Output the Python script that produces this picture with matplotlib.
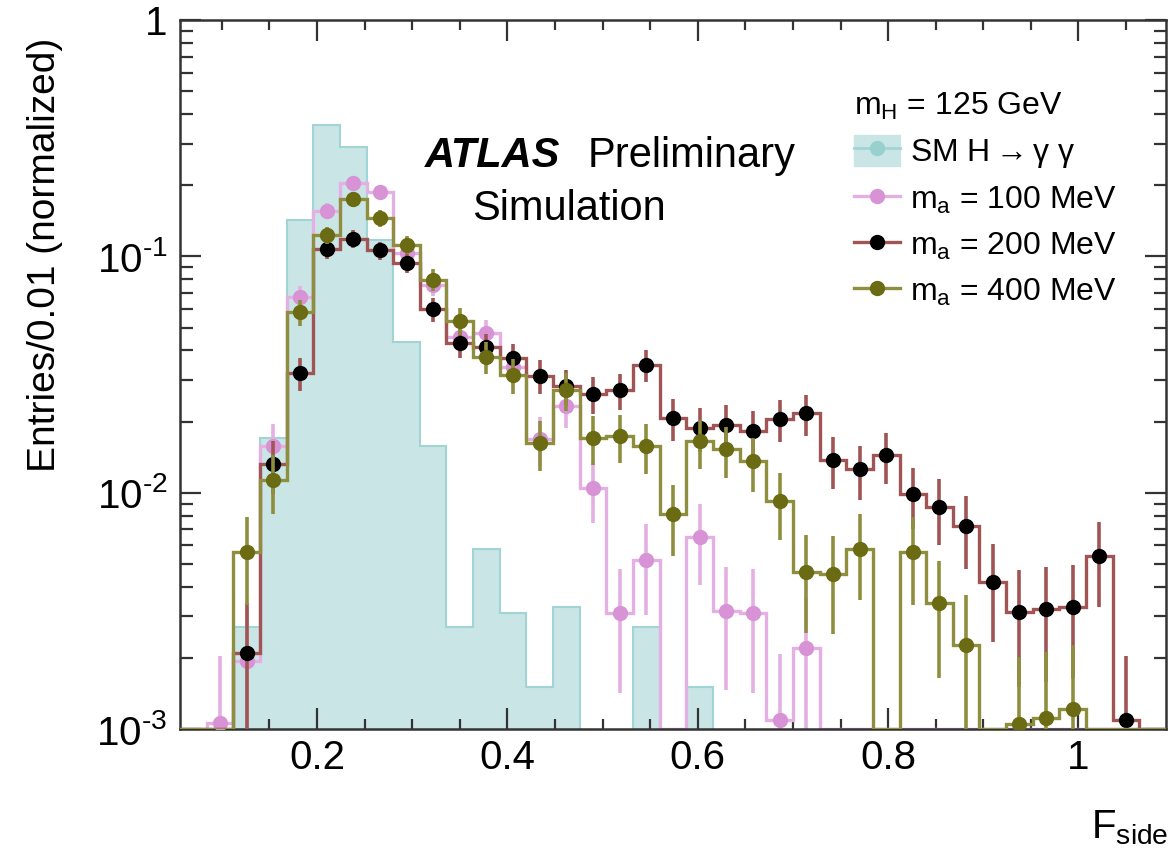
import numpy as np
import matplotlib
matplotlib.use("Agg")
import matplotlib.pyplot as plt
from matplotlib.lines import Line2D
from matplotlib.patches import Patch
from matplotlib.ticker import FixedLocator, FixedFormatter, MultipleLocator, LogLocator, NullFormatter

plt.rcParams["font.family"] = ["Liberation Sans", "DejaVu Sans"]
plt.rcParams["mathtext.fontset"] = "custom"
plt.rcParams["mathtext.rm"] = "Liberation Sans"
plt.rcParams["mathtext.it"] = "Liberation Sans"

# F_side binning: 37 bins of width 0.028 from 0.056 to 1.092
edges = np.linspace(0.056, 1.092, 38)

sm_hgg = [0, 0, 0.0027, 0.0171, 0.142, 0.36, 0.29, 0.117, 0.0436, 0.0157,
          0.0027, 0.0058, 0.0031, 0.0015, 0.0033, 0, 0, 0.0027, 0, 0.0015,
          0, 0, 0, 0, 0, 0, 0, 0, 0, 0, 0, 0, 0, 0, 0, 0, 0]
ma_100 = [0, 0.00106, 0.00195, 0.0157, 0.0672, 0.156, 0.204, 0.188, 0.103, 0.076,
          0.0458, 0.0473, 0.034, 0.0169, 0.0233, 0.0105, 0.0031, 0.0052, 0, 0.0065,
          0.00315, 0.0031, 0.00109, 0.0022, 0, 0, 0, 0, 0, 0, 0, 0, 0, 0, 0, 0, 0]
ma_200 = [0, 0, 0.0021, 0.0132, 0.032, 0.107, 0.119, 0.106, 0.0936, 0.0598,
          0.043, 0.0413, 0.0371, 0.0312, 0.0283, 0.0262, 0.0271, 0.0348, 0.0207, 0.0188,
          0.0194, 0.0183, 0.0206, 0.0217, 0.0138, 0.0126, 0.0144, 0.0099, 0.0087, 0.0072,
          0.0042, 0.00312, 0.00322, 0.0033, 0.0054, 0.00109, 0]
ma_400 = [0, 0, 0.0056, 0.0113, 0.0579, 0.123, 0.1745, 0.145, 0.112, 0.0796,
          0.0535, 0.0377, 0.0315, 0.0162, 0.0271, 0.0171, 0.0173, 0.0158, 0.0081, 0.0165,
          0.0153, 0.0136, 0.0092, 0.0046, 0.00455, 0.0058, 0, 0.0056, 0.0034, 0.00226,
          0, 0.00105, 0.00111, 0.00121, 0, 0, 0]

# effective MC statistics behind each normalized signal sample (Poisson errors)
events_100 = 1100
events_200 = 1200
events_400 = 1100

labels = ["SM H$\\rightarrow\\gamma\\ \\gamma$", "m$_a$ = 100 MeV", "m$_a$ = 200 MeV", "m$_a$ = 400 MeV"]
xtick_labels = ["0.2", "0.4", "0.6", "0.8", "1"]
ytick_labels = ["10$^{\u20103}$", "10$^{\u20102}$", "10$^{\u20101}$", "1"]

ymin, ymax = 1e-3, 1.0
centers = 0.5 * (edges[:-1] + edges[1:])

fig = plt.figure(figsize=(11.68, 8.58), dpi=100)
ax = fig.add_axes([0.1541, 0.1503, 0.8442, 0.8263])
ax.set_yscale("log")

sm = np.asarray(sm_hgg, dtype=float)
ax.stairs(np.where(sm > 0, sm, 1e-6), edges, baseline=1e-6, fill=True,
          facecolor="#c9e5e6", edgecolor="#a3d4d5", linewidth=1.5, zorder=1)


def draw_signal(values, events, line_color, marker_color, z):
    v = np.asarray(values, dtype=float)
    ax.stairs(np.where(v > 0, v, ymin), edges, color=line_color, linewidth=2.4, zorder=z)
    mask = v > 0
    err = np.sqrt(v[mask] / events)
    lo = np.minimum(err, v[mask] - 1e-6)
    ax.errorbar(centers[mask], v[mask], yerr=[lo, err], fmt="o", ms=10,
                color=marker_color, mec=marker_color, ecolor=line_color,
                elinewidth=2.6, capsize=0, zorder=z + 0.5)


draw_signal(ma_100, events_100, "#e4b0e3", "#d892d6", 2)
draw_signal(ma_200, events_200, "#a05454", "black", 3)
draw_signal(ma_400, events_400, "#8e8e3e", "#6b6b14", 4)

ax.set_xlim(edges[0], edges[-1])
ax.set_ylim(ymin, ymax)

ax.set_xticks([0.2, 0.4, 0.6, 0.8, 1.0], xtick_labels)
ax.xaxis.set_minor_locator(MultipleLocator(0.05))
ax.yaxis.set_major_locator(FixedLocator([1e-3, 1e-2, 1e-1, 1]))
ax.yaxis.set_major_formatter(FixedFormatter(ytick_labels))
ax.yaxis.set_minor_locator(LogLocator(base=10, subs=np.arange(2, 10)))
ax.yaxis.set_minor_formatter(NullFormatter())

ax.tick_params(which="both", direction="in", top=True, right=True, width=1.6, color="#333333")
ax.tick_params(axis="x", which="major", length=15, labelsize=29, pad=7)
ax.tick_params(axis="x", which="minor", length=7)
ax.tick_params(axis="y", which="major", length=15, labelsize=29, pad=9)
ax.tick_params(axis="y", which="minor", length=9)
for spine in ax.spines.values():
    spine.set_linewidth(1.8)
    spine.set_color("#333333")

fig.text(45 / 1168, 1 - 38 / 858, "Entries/0.01 (normalized)", rotation=90,
         ha="center", va="top", fontsize=28)
fig.text(1.0, 1 - 838 / 858, "F$_{\\mathrm{side}}$", ha="right", va="baseline", fontsize=29)

fig.text(425 / 1168, 1 - 167 / 858, "ATLAS", fontsize=30, fontweight="bold",
         fontstyle="italic", va="baseline")
fig.text(588 / 1168, 1 - 167 / 858, "Preliminary", fontsize=30, va="baseline")
fig.text(472 / 1168, 1 - 220 / 858, "Simulation", fontsize=30, va="baseline")

handles = [
    (Patch(facecolor="#c9e5e6", edgecolor="#c9e5e6"),
     Line2D([], [], color="#a3d4d5", lw=2, marker="o", ms=10, mfc="#98d0d0", mec="#98d0d0")),
    Line2D([], [], color="#e4b0e3", lw=2.4, marker="o", ms=10, mfc="#d892d6", mec="#d892d6"),
    Line2D([], [], color="#a05454", lw=2.4, marker="o", ms=10, mfc="black", mec="black"),
    Line2D([], [], color="#8e8e3e", lw=2.4, marker="o", ms=10, mfc="#6b6b14", mec="#6b6b14"),
]
leg = ax.legend(handles, labels, title="m$_{\\mathrm{H}}$ = 125 GeV", loc="upper left",
                bbox_to_anchor=(838 / 1168, 1 - 75 / 858), bbox_transform=fig.transFigure,
                frameon=False, fontsize=23, title_fontsize=23, handlelength=1.45,
                handleheight=1.1, handletextpad=0.3, labelspacing=0.4, borderpad=0,
                alignment="left")

fig.savefig("out.png", dpi=100)
